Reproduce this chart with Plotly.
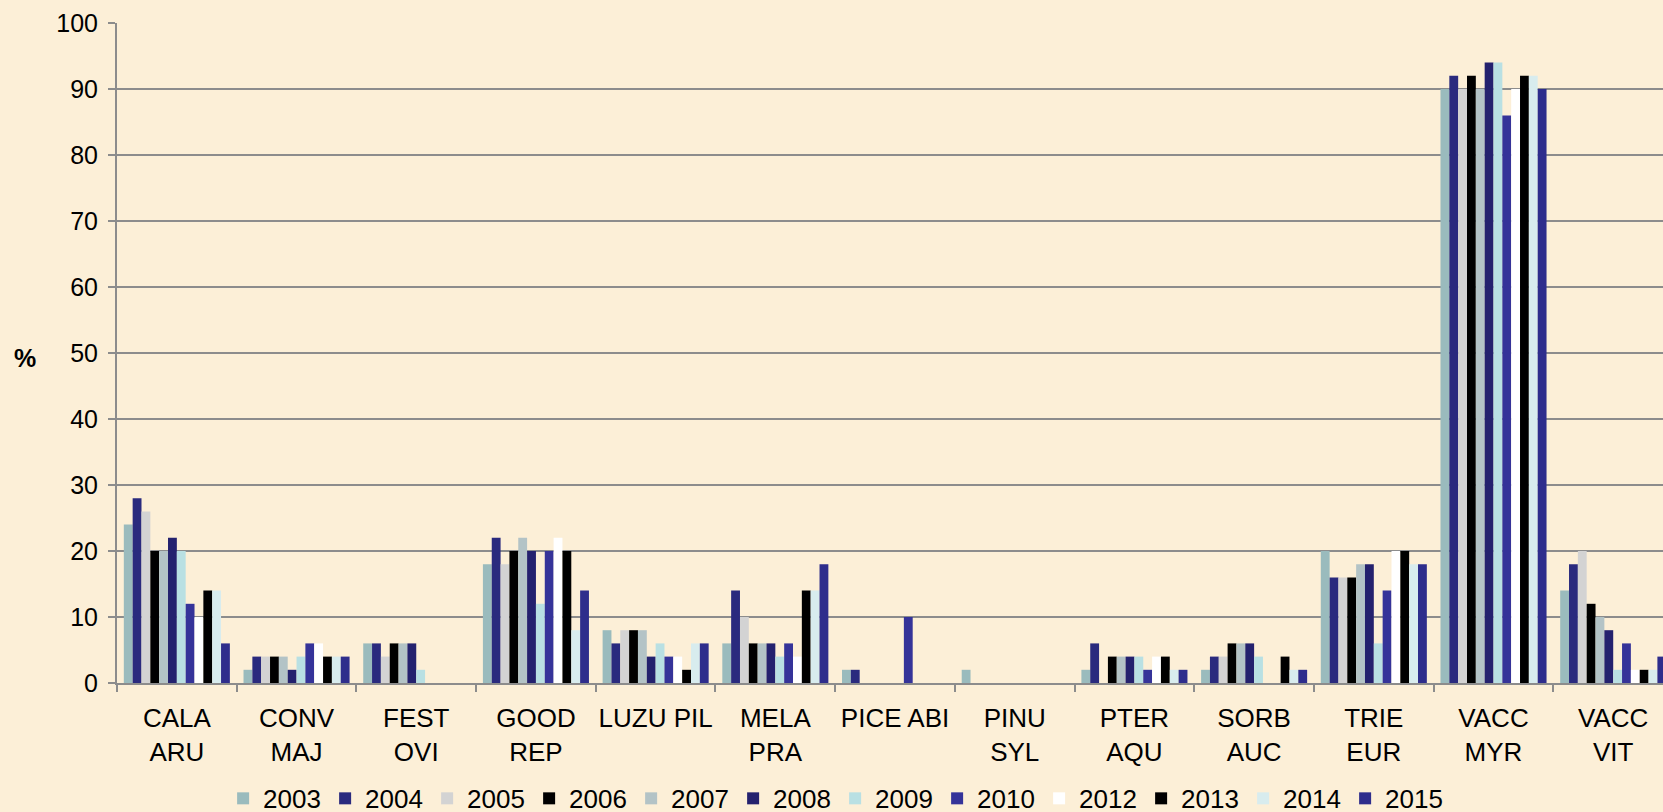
import plotly.graph_objects as go

# species codes (x categories)
species = ["CALA<br>ARU", "CONV<br>MAJ", "FEST<br>OVI", "GOOD<br>REP", "LUZU PIL",
           "MELA<br>PRA", "PICE ABI", "PINU<br>SYL", "PTER<br>AQU", "SORB<br>AUC",
           "TRIE<br>EUR", "VACC<br>MYR", "VACC<br>VIT"]

years = ["2003", "2004", "2005", "2006", "2007", "2008",
         "2009", "2010", "2012", "2013", "2014", "2015"]

# % values per year, one entry per species (same order as above)
v2003 = [24, 2, 6, 18, 8, 6, 2, 2, 2, 2, 20, 90, 14]
v2004 = [28, 4, 6, 22, 6, 14, 2, 0, 6, 4, 16, 92, 18]
v2005 = [26, 4, 4, 18, 8, 10, 0, 0, 0, 4, 16, 90, 20]
v2006 = [20, 4, 6, 20, 8, 6, 0, 0, 4, 6, 16, 92, 12]
v2007 = [20, 4, 6, 22, 8, 6, 0, 0, 4, 6, 18, 90, 10]
v2008 = [22, 2, 6, 20, 4, 6, 0, 0, 4, 6, 18, 94, 8]
v2009 = [20, 4, 2, 12, 6, 4, 0, 0, 4, 4, 6, 94, 2]
v2010 = [12, 6, 0, 20, 4, 6, 10, 0, 2, 0, 14, 86, 6]
v2012 = [10, 6, 0, 22, 4, 4, 0, 0, 4, 0, 20, 90, 2]
v2013 = [14, 4, 0, 20, 2, 14, 0, 0, 4, 4, 20, 92, 2]
v2014 = [14, 4, 0, 8, 6, 14, 0, 0, 2, 2, 18, 92, 2]
v2015 = [6, 4, 0, 14, 6, 18, 0, 0, 2, 2, 18, 90, 4]

series = [v2003, v2004, v2005, v2006, v2007, v2008,
          v2009, v2010, v2012, v2013, v2014, v2015]

colors = ["#9abbbd", "#2a2a7e", "#d3d3d3", "#000000", "#b3c3c6", "#24216e",
          "#b9e0e3", "#353399", "#ffffff", "#000000", "#d8ecee", "#2e2d8c"]

bg = "#fcefd7"
grid = "#8c8c8c"
font = "Liberation Sans, Arial, sans-serif"

fig = go.Figure()
for yr, vals, col in zip(years, series, colors):
    fig.add_trace(go.Bar(x=species, y=vals, name=yr,
                         marker=dict(color=col, line=dict(width=0))))

# figure a bit taller than the window so the legend row is not squeezed;
# the page hides the overflow
fig.update_layout(
    width=1663, height=830,
    barmode="group", bargap=0.114, bargroupgap=0,
    paper_bgcolor=bg, plot_bgcolor=bg,
    font=dict(family=font, size=25, color="black"),
    margin=dict(l=117, r=0, t=23, b=147, autoexpand=False),
    legend=dict(orientation="h", x=0.4645, xanchor="center",
                y=-0.2105, yanchor="bottom", bgcolor="rgba(0,0,0,0)",
                font=dict(size=26), itemwidth=30,
                entrywidth=57, entrywidthmode="pixels"),
    annotations=[dict(text="<b>%</b>", x=-(117 - 25) / 1546, xref="paper",
                      xanchor="center", y=50, yref="y", yshift=-5,
                      showarrow=False, font=dict(size=25))],
)

fig.update_xaxes(range=[-0.5, 12.416], tickson="boundaries", ticks="outside",
                 ticklen=7, tickcolor=grid, tickwidth=2, tickangle=0,
                 ticklabelstandoff=11,
                 showline=True, linecolor=grid, linewidth=2,
                 showgrid=False, tickfont=dict(size=26))
fig.update_yaxes(range=[0, 100], dtick=10, ticks="outside", ticklen=7,
                 tickcolor=grid, tickwidth=2, showline=True, linecolor=grid,
                 linewidth=2, showgrid=True, gridcolor=grid, gridwidth=2,
                 ticklabelstandoff=5,
                 zeroline=False, tickfont=dict(size=25))

# drop the default page margin so the figure sits at the window's corner
fig.write_html("out.html", config=dict(displayModeBar=False),
               post_script="document.body.style.margin='0';"
                           "document.body.style.overflow='hidden';")
